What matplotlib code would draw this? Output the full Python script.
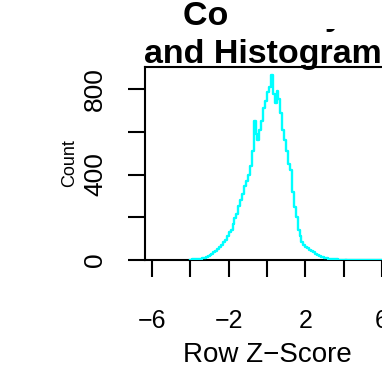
import numpy as np
import matplotlib
matplotlib.use("Agg")
import matplotlib.pyplot as plt
from matplotlib.patches import Rectangle

plt.rcParams['font.family'] = ['Liberation Sans', 'DejaVu Sans']

# Histogram of row z-scores (bin width 0.1, first bin starts at -4.0)
bin_start = -4.0
bin_width = 0.1
counts = [2, 3, 4, 5, 6, 7, 8, 10, 14, 20,
          25, 30, 37, 44, 52, 60, 70, 84, 92, 112,
          131, 142, 168, 195, 215, 252, 280, 310, 345, 370,
          400, 440, 510, 650, 590, 560, 610, 650, 710, 745,
          785, 810, 865, 775, 735, 790, 755, 690, 610, 560,
          510, 450, 420, 320, 250, 200, 140, 110, 86, 72,
          60, 55, 48, 40, 36, 30, 22, 18, 15, 13,
          10, 8, 6, 5, 4, 3, 3, 2, 1, 1,
          0]
x_ticks = [-6, -4, -2, 0, 2, 4, 6]
x_ticklabels = ['\u22126', '', '\u22122', '', '2', '', '6']
y_ticks = [0, 200, 400, 600, 800]
y_ticklabels = ['0', '', '400', '', '800']
xlim = (-6.37, 6.37)
ylim = (0, 903)

W, H = 382, 367
fig = plt.figure(figsize=(W / 100, H / 100), dpi=100)
ax = fig.add_axes([145 / W, 1 - 260 / H, (389 - 145) / W, (260 - 67) / H])

edges = bin_start + bin_width * np.arange(len(counts) + 1)
vals = list(counts) + [counts[-1]]
ax.step(edges, vals, where='post', color='#00FFFF', lw=1.7, zorder=3)
ax.plot([edges[-1], xlim[1]], [0, 0], color='#00FFFF', lw=1.7, zorder=3)

ax.set_xlim(*xlim)
ax.set_ylim(*ylim)
for s in ax.spines.values():
    s.set_linewidth(1.5)
    s.set_color('black')

ax.set_xticks(x_ticks)
ax.set_xticklabels(x_ticklabels, fontsize=18)
ax.set_yticks(y_ticks)
ax.set_yticklabels(y_ticklabels, fontsize=19, rotation=90, va='center')
ax.tick_params(axis='both', direction='out', length=12.2, width=1.5)
ax.tick_params(axis='x', pad=23)
ax.tick_params(axis='y', pad=15)

fig.text(267 / W, 1 - 355 / H, 'Row Z\u2212Score', fontsize=20, ha='center', va='center')
fig.text(70 / W, 1 - 163 / H, 'Count', fontsize=13, ha='center', va='center', rotation=90)

fig.text(263 / W, 1 - 25 / H, 'Color Key', fontsize=24.5, fontweight='bold', ha='center', va='baseline')
fig.text(263 / W, 1 - 63 / H, 'and Histogram', fontsize=24.5, fontweight='bold', ha='center', va='baseline')
fig.patches.append(Rectangle((228 / W, 1 - 29 / H), 1, 29 / H, transform=fig.transFigure,
                             facecolor='white', edgecolor='none', zorder=10))

fig.savefig('out.png', dpi=100)
